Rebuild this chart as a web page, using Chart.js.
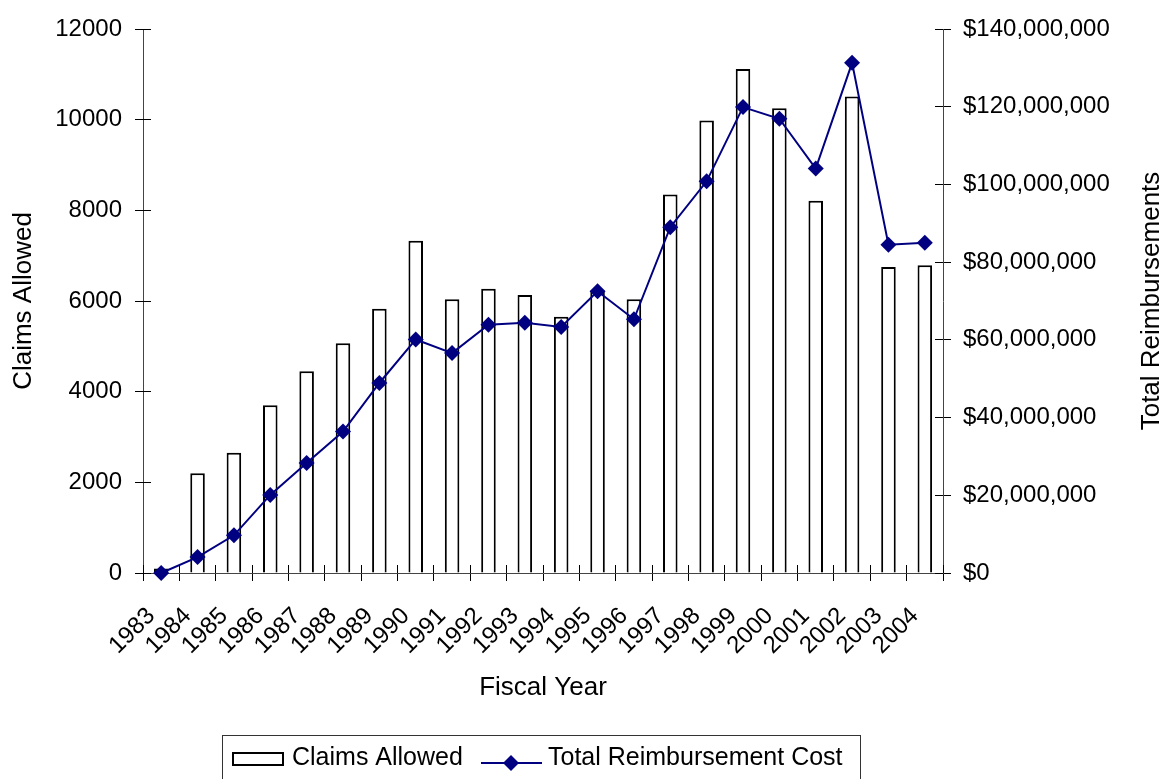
<!DOCTYPE html>
<html>
<head>
<meta charset="utf-8">
<title>Claims Allowed and Total Reimbursement Cost</title>
<script src="https://cdn.jsdelivr.net/npm/chart.js@4/dist/chart.umd.min.js"></script>
<style>
  html, body { margin: 0; padding: 0; background: #fff; }
  canvas { display: block; }
</style>
</head>
<body>
<canvas id="claimsChart" width="1163" height="779"></canvas>
<script>
const years = ["1983", "1984", "1985", "1986", "1987", "1988", "1989", "1990", "1991", "1992", "1993",
  "1994", "1995", "1996", "1997", "1998", "1999", "2000", "2001", "2002", "2003", "2004"];

const claimsAllowed = [100, 2200, 2650, 3700, 4450, 5070, 5830, 7330, 6040, 6270, 6130,
  5650, 6230, 6040, 8350, 9980, 11120, 10250, 8210, 10510, 6750, 6790];

const reimbursementCost = [0, 4100000, 9700000, 20100000, 28300000, 36400000, 48900000, 60100000,
  56600000, 63900000, 64400000, 63300000, 72500000, 65300000, 89000000, 100800000, 119900000,
  116900000, 104100000, 131300000, 84500000, 85000000];

const claimTicks = [0, 2000, 4000, 6000, 8000, 10000, 12000];
const costTicks = [0, 20000000, 40000000, 60000000, 80000000, 100000000, 120000000, 140000000];

const FONT = "'Liberation Sans', Arial, sans-serif";
const NAVY = "#000080";

// extra bits Excel draws that Chart.js doesn't: inner tick halves, right title, boxed legend
const extras = {
  id: "extras",
  afterDraw(chart) {
    const ctx = chart.ctx;
    const area = chart.chartArea;
    const { x, y, y1 } = chart.scales;
    const align = p => Math.round(p - 0.5) + 0.5;

    ctx.save();
    ctx.strokeStyle = "#000";
    ctx.lineWidth = 1;
    ctx.beginPath();
    y.ticks.forEach(t => {
      const py = align(y.getPixelForValue(t.value));
      ctx.moveTo(area.left, py);
      ctx.lineTo(area.left + 8, py);
    });
    y1.ticks.forEach(t => {
      const py = align(y1.getPixelForValue(t.value));
      ctx.moveTo(area.right - 8, py);
      ctx.lineTo(area.right, py);
    });
    for (let i = 0; i <= years.length; i++) {
      const px = align(x.getPixelForValue(i - 0.5));
      ctx.moveTo(px, area.bottom - 8);
      ctx.lineTo(px, area.bottom);
    }
    ctx.stroke();

    ctx.fillStyle = "#000";
    ctx.font = "26px " + FONT;
    ctx.textAlign = "center";
    ctx.textBaseline = "middle";
    ctx.translate(1152, (area.top + area.bottom) / 2);
    ctx.rotate(-Math.PI / 2);
    ctx.fillText("Total Reimbursements", 0, 0);
    ctx.restore();

    // legend
    const ds = chart.data.datasets;
    ctx.save();
    ctx.strokeStyle = "#333";
    ctx.lineWidth = 1;
    ctx.strokeRect(222.5, 735.5, 638, 80);

    ctx.strokeStyle = "#000";
    ctx.lineWidth = 2;
    ctx.strokeRect(233, 753, 50, 12);

    ctx.fillStyle = "#000";
    ctx.font = "25px " + FONT;
    ctx.textAlign = "left";
    ctx.textBaseline = "alphabetic";
    ctx.fillText(ds[0].label, 292, 765);

    ctx.strokeStyle = NAVY;
    ctx.lineWidth = 2;
    ctx.beginPath();
    ctx.moveTo(481, 763);
    ctx.lineTo(542, 763);
    ctx.stroke();
    ctx.fillStyle = NAVY;
    ctx.beginPath();
    ctx.moveTo(511, 755);
    ctx.lineTo(519, 763);
    ctx.lineTo(511, 771);
    ctx.lineTo(503, 763);
    ctx.closePath();
    ctx.fill();

    ctx.fillStyle = "#000";
    ctx.fillText(ds[1].label, 548, 765);
    ctx.restore();
  }
};

const ctx = document.getElementById("claimsChart").getContext("2d");

new Chart(ctx, {
  data: {
    labels: years,
    datasets: [
      {
        type: "bar",
        label: "Claims Allowed",
        data: claimsAllowed,
        yAxisID: "y",
        backgroundColor: "#fff",
        borderColor: "#000",
        borderWidth: 2,
        barPercentage: 0.4,
        categoryPercentage: 1,
        order: 2
      },
      {
        type: "line",
        label: "Total Reimbursement Cost",
        data: reimbursementCost,
        yAxisID: "y1",
        borderColor: NAVY,
        borderWidth: 2,
        tension: 0,
        pointStyle: "rectRot",
        pointRadius: 8,
        pointBorderWidth: 0,
        pointBackgroundColor: NAVY,
        pointBorderColor: NAVY,
        clip: false,
        order: 1
      }
    ]
  },
  options: {
    responsive: false,
    animation: false,
    layout: {
      padding: { top: 29, left: 0, right: 0, bottom: 50 }
    },
    plugins: {
      legend: { display: false },
      tooltip: { enabled: false }
    },
    scales: {
      x: {
        grid: { drawOnChartArea: false, tickLength: 8, color: "#000", offset: true },
        border: { color: "#444" },
        ticks: {
          autoSkip: false,
          maxRotation: 45,
          minRotation: 45,
          padding: 21,
          labelOffset: -10,
          color: "#000",
          font: { family: FONT, size: 24 }
        },
        title: {
          display: true,
          text: "Fiscal Year",
          color: "#000",
          font: { family: FONT, size: 26 },
          padding: { top: 0, bottom: 26 }
        },
        afterFit(scale) { scale.height = 156; }
      },
      y: {
        position: "left",
        min: 0,
        max: 12000,
        afterBuildTicks(scale) { scale.ticks = claimTicks.map(v => ({ value: v })); },
        grid: { drawOnChartArea: false, tickLength: 8, color: "#000" },
        border: { color: "#444" },
        ticks: {
          padding: 13,
          color: "#000",
          font: { family: FONT, size: 24 },
          callback: v => String(v)
        },
        title: {
          display: true,
          text: "Claims Allowed",
          color: "#000",
          font: { family: FONT, size: 26 },
          padding: { top: 8, bottom: 0 }
        },
        afterFit(scale) { scale.width = 143; }
      },
      y1: {
        position: "right",
        min: 0,
        max: 140000000,
        afterBuildTicks(scale) { scale.ticks = costTicks.map(v => ({ value: v })); },
        grid: { drawOnChartArea: false, tickLength: 8, color: "#000" },
        border: { color: "#444" },
        ticks: {
          padding: 12,
          color: "#000",
          font: { family: FONT, size: 24 },
          callback: v => "$" + v.toLocaleString("en-US")
        },
        afterFit(scale) { scale.width = 220; }
      }
    }
  },
  plugins: [extras]
});
</script>
</body>
</html>
